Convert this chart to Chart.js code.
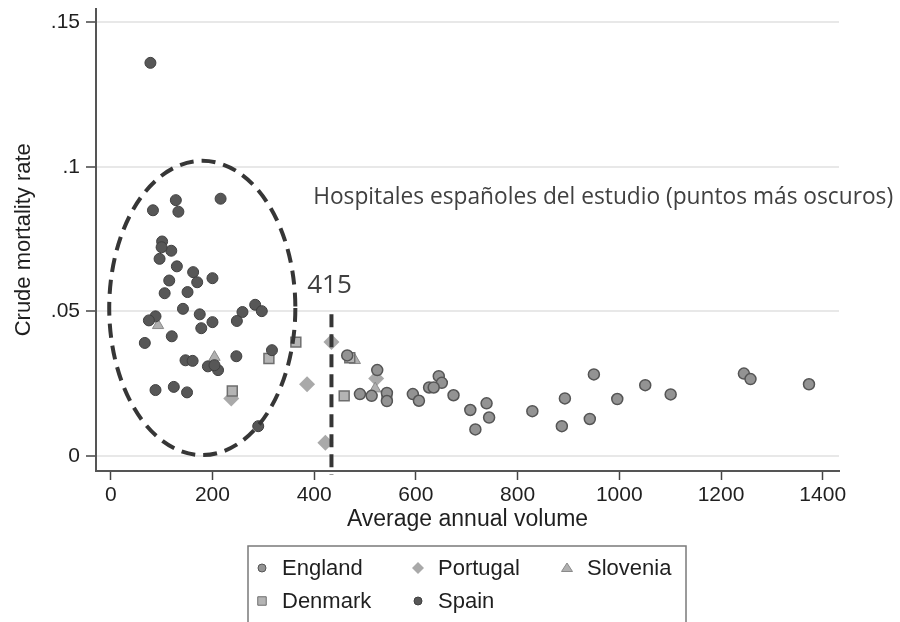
<!DOCTYPE html>
<html>
<head>
<meta charset="utf-8">
<script src="https://cdn.jsdelivr.net/npm/chart.js@4.4.1/dist/chart.umd.min.js"></script>
<style>
  html, body { margin: 0; padding: 0; background: #fff; }
  #chartBox { width: 900px; height: 622px; }
</style>
</head>
<body>
<div id="chartBox"><canvas id="volumeChart" width="900" height="622"></canvas></div>
<script>
// values: [average annual volume, crude mortality rate]
const englandPoints = [
  [465, 0.0348], [490, 0.0214], [513, 0.0208], [524, 0.0297], [543, 0.0218], [543, 0.019],
  [594, 0.0214], [606, 0.0191], [626, 0.0237], [645, 0.0276], [651, 0.0253], [635, 0.0237],
  [674, 0.021], [707, 0.0159], [739, 0.0182], [744, 0.0133], [717, 0.0092], [829, 0.0155],
  [893, 0.0199], [887, 0.0103], [950, 0.0282], [942, 0.0128], [996, 0.0197], [1051, 0.0245],
  [1101, 0.0213], [1245, 0.0285], [1258, 0.0266], [1373, 0.0248]
];
const portugalPoints = [[434, 0.0394], [386, 0.0248], [422, 0.0046], [522, 0.0268], [237, 0.0199]];
const sloveniaPoints = [[93, 0.0452], [204, 0.0342], [480, 0.0331], [520, 0.0233]];
const denmarkPoints = [[364, 0.0394], [311, 0.0337], [239, 0.0225], [459, 0.0208], [470, 0.034], [543, 0.0204]];
const spainPoints = [
  [78, 0.136], [83, 0.085], [128, 0.0885], [133, 0.0845], [216, 0.089],
  [101, 0.0742], [119, 0.071], [96, 0.0682], [100, 0.0722], [130, 0.0656],
  [162, 0.0636], [170, 0.0601], [200, 0.0615], [115, 0.0607], [106, 0.0563],
  [151, 0.0567], [142, 0.0509], [175, 0.049], [200, 0.0463], [178, 0.0442],
  [88, 0.0483], [75, 0.0469], [120, 0.0414], [67, 0.0391], [259, 0.0498],
  [248, 0.0467], [284, 0.0523], [297, 0.0501], [147, 0.0331], [161, 0.0329],
  [191, 0.031], [211, 0.0297], [204, 0.0314], [247, 0.0345], [317, 0.0366],
  [88, 0.0228], [124, 0.0239], [150, 0.022], [290, 0.0103]
];

const xTickValues = [0, 200, 400, 600, 800, 1000, 1200, 1400];
const xTickLabels = ['0', '200', '400', '600', '800', '1000', '1200', '1400'];
const yTickValues = [0, 0.05, 0.1, 0.15];
const yTickLabels = ['0', '.05', '.1', '.15'];

const legendOrder = ['England', 'Portugal', 'Slovenia', 'Denmark', 'Spain'];

const axisFont = "'Liberation Sans', Arial, sans-serif";
const noteFont = "'Open Sans', 'Noto Sans', sans-serif";
const textColor = '#1f1f1f';

function toXY(list) {
  return list.map(p => ({ x: p[0], y: p[1] }));
}

// draw a marker shape (used for the hand-made legend)
function drawMarker(ctx, style, x, y, r, fill, stroke, bw) {
  ctx.save();
  ctx.beginPath();
  if (style === 'circle') {
    ctx.arc(x, y, r, 0, Math.PI * 2);
  } else if (style === 'rect') {
    const s = r * Math.SQRT1_2;
    ctx.rect(x - s, y - s, 2 * s, 2 * s);
  } else if (style === 'rectRot') {
    ctx.moveTo(x, y - r); ctx.lineTo(x + r, y); ctx.lineTo(x, y + r); ctx.lineTo(x - r, y); ctx.closePath();
  } else if (style === 'triangle') {
    ctx.moveTo(x, y - r); ctx.lineTo(x + r * 1.1, y + r * 0.7); ctx.lineTo(x - r * 1.1, y + r * 0.7); ctx.closePath();
  }
  ctx.fillStyle = fill;
  ctx.fill();
  if (bw > 0) {
    ctx.lineWidth = bw;
    ctx.strokeStyle = stroke;
    ctx.stroke();
  }
  ctx.restore();
}

// dashed ellipse, vertical reference line and the Spanish notes
const annotationPlugin = {
  id: 'notes',
  afterDatasetsDraw(chart) {
    const ctx = chart.ctx;
    const xs = chart.scales.x, ys = chart.scales.y;
    ctx.save();
    ctx.strokeStyle = '#363636';
    ctx.lineWidth = 4;
    ctx.setLineDash([14, 8]);

    const cx = xs.getPixelForValue(180), cy = ys.getPixelForValue(0.0512);
    const rx = Math.abs(xs.getPixelForValue(180 + 183) - cx);
    const ry = Math.abs(ys.getPixelForValue(0.0512 + 0.0509) - cy);
    ctx.beginPath();
    ctx.ellipse(cx, cy, rx, ry, 0, 0, Math.PI * 2);
    ctx.stroke();

    const lx = xs.getPixelForValue(434);
    ctx.setLineDash([13, 7]);
    ctx.beginPath();
    ctx.moveTo(lx, ys.getPixelForValue(0.049));
    ctx.lineTo(lx, ys.getPixelForValue(-0.0065));
    ctx.stroke();
    ctx.setLineDash([]);

    ctx.fillStyle = '#404040';
    ctx.textBaseline = 'middle';
    ctx.textAlign = 'center';
    ctx.font = '26px ' + noteFont;
    ctx.fillText('415', lx - 2, ys.getPixelForValue(0.059));

    const note = 'Hospitales españoles del estudio (puntos más oscuros)';
    ctx.font = '20px ' + noteFont;
    const w = ctx.measureText(note).width;
    const size = 20 * 580 / w;
    ctx.font = size.toFixed(2) + 'px ' + noteFont;
    ctx.textAlign = 'left';
    ctx.fillText(note, xs.getPixelForValue(398), ys.getPixelForValue(0.0893));
    ctx.restore();
  }
};

// boxed two-row legend below the x title
const boxLegendPlugin = {
  id: 'boxLegend',
  afterDraw(chart) {
    const ctx = chart.ctx;
    ctx.save();
    ctx.strokeStyle = '#7a7a7a';
    ctx.lineWidth = 1.5;
    ctx.strokeRect(248, 546, 438, 90);
    const slots = [[262, 568], [418, 568], [567, 568], [262, 601], [418, 601]];
    ctx.font = '22px ' + axisFont;
    ctx.textBaseline = 'middle';
    legendOrder.forEach((name, i) => {
      const ds = chart.data.datasets.find(d => d.label === name);
      const [x, y] = slots[i];
      drawMarker(ctx, ds.pointStyle, x, y, ds.legendRadius, ds.backgroundColor, ds.borderColor, ds.borderWidth ? 1 : 0);
      ctx.fillStyle = textColor;
      ctx.fillText(name, x + 20, y + 1);
    });
    ctx.restore();
  }
};

const ctx = document.getElementById('volumeChart').getContext('2d');
new Chart(ctx, {
  type: 'scatter',
  data: {
    datasets: [
      {
        label: 'Spain', data: toXY(spainPoints), pointStyle: 'circle', pointRadius: 5.5,
        backgroundColor: '#575757', borderColor: '#404040', borderWidth: 1, legendRadius: 4
      },
      {
        label: 'England', data: toXY(englandPoints), pointStyle: 'circle', pointRadius: 5.5,
        backgroundColor: '#939393', borderColor: '#555555', borderWidth: 1.5, legendRadius: 4
      },
      {
        label: 'Denmark', data: toXY(denmarkPoints), pointStyle: 'rect', pointRadius: 7,
        backgroundColor: '#b4b4b4', borderColor: '#6e6e6e', borderWidth: 1.5, legendRadius: 6
      },
      {
        label: 'Slovenia', data: toXY(sloveniaPoints), pointStyle: 'triangle', pointRadius: 6.5,
        backgroundColor: '#b0b0b0', borderColor: '#8a8a8a', borderWidth: 1, legendRadius: 5
      },
      {
        label: 'Portugal', data: toXY(portugalPoints), pointStyle: 'rectRot', pointRadius: 8,
        backgroundColor: '#a9a9a9', borderColor: '#a0a0a0', borderWidth: 0, legendRadius: 6
      }
    ]
  },
  options: {
    responsive: false,
    animation: false,
    layout: { padding: { left: 0, right: 61, top: 7, bottom: 89 } },
    plugins: {
      legend: { display: false },
      tooltip: { enabled: false }
    },
    scales: {
      x: {
        type: 'linear',
        min: -29,
        max: 1432,
        afterBuildTicks: s => { s.ticks = xTickValues.map(v => ({ value: v })); },
        afterFit: s => { s.height = 62; s.paddingLeft = 0; s.paddingRight = 0; },
        grid: { drawOnChartArea: false, tickColor: '#444', tickLength: 9, tickWidth: 1.5 },
        border: { color: '#555', width: 2 },
        ticks: {
          autoSkip: false, maxRotation: 0, padding: 3, color: textColor,
          font: { family: axisFont, size: 21 },
          callback: (v, i) => xTickLabels[i]
        },
        title: {
          display: true, text: 'Average annual volume', color: textColor,
          font: { family: axisFont, size: 23 }, padding: { top: 0, bottom: 0 }
        }
      },
      y: {
        type: 'linear',
        min: -0.0052,
        max: 0.1548,
        afterBuildTicks: s => { s.ticks = yTickValues.map(v => ({ value: v })); },
        afterFit: s => { s.width = 96; s.paddingTop = 0; s.paddingBottom = 0; },
        grid: { color: '#e8e8e8', lineWidth: 2, tickColor: '#444', tickLength: 10, tickWidth: 1.5 },
        border: { color: '#555', width: 2 },
        ticks: {
          autoSkip: false, padding: 6, color: textColor,
          font: { family: axisFont, size: 21 },
          callback: (v, i) => yTickLabels[i]
        },
        title: {
          display: true, text: 'Crude mortality rate', color: textColor,
          font: { family: axisFont, size: 22 }, padding: { top: 11, bottom: 0 }
        }
      }
    }
  },
  plugins: [annotationPlugin, boxLegendPlugin]
});
</script>
</body>
</html>
